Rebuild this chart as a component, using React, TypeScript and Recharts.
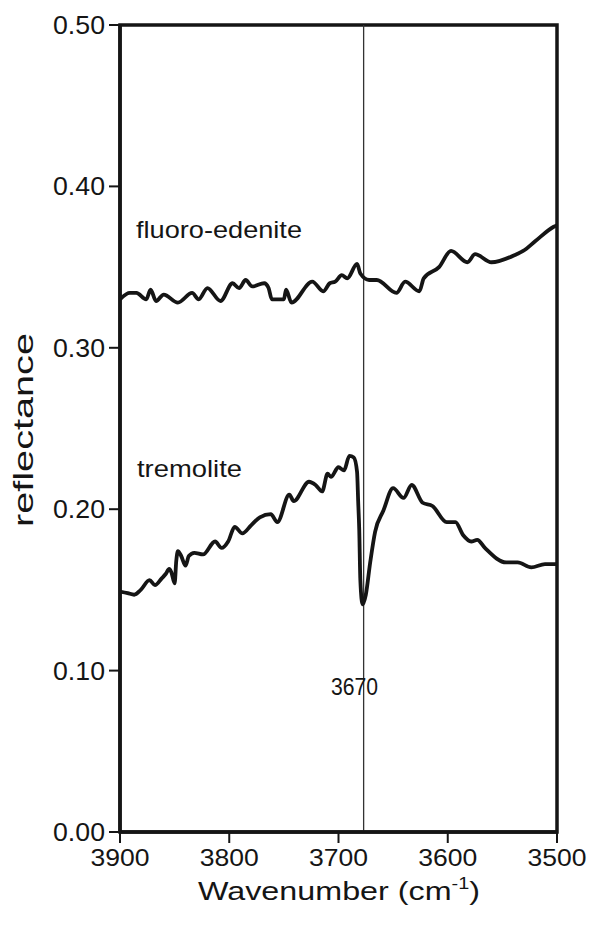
import React from 'react'
import { LineChart, Line, XAxis, YAxis, ReferenceLine, ReferenceArea } from 'recharts'

const FONT = '"Liberation Sans", Arial, Helvetica, sans-serif'
const INK = '#151515'

// wavenumber (cm-1) / reflectance
const fluoroX = [3900, 3891, 3885, 3876, 3872, 3867, 3860, 3847, 3834, 3828, 3820, 3808, 3797, 3791, 3785, 3779, 3768, 3764, 3761, 3750, 3748, 3743, 3724, 3714, 3708, 3703, 3697, 3692, 3683, 3680, 3672, 3665, 3647, 3639, 3626, 3622, 3608, 3597, 3582, 3575, 3560, 3537, 3531, 3520, 3503, 3500]
const fluoroY = [0.330, 0.334, 0.334, 0.330, 0.336, 0.329, 0.333, 0.328, 0.334, 0.330, 0.337, 0.329, 0.340, 0.337, 0.342, 0.338, 0.340, 0.337, 0.330, 0.330, 0.336, 0.328, 0.341, 0.335, 0.340, 0.341, 0.345, 0.343, 0.352, 0.346, 0.342, 0.342, 0.334, 0.341, 0.335, 0.343, 0.350, 0.360, 0.353, 0.358, 0.353, 0.358, 0.360, 0.366, 0.375, 0.376]

const tremoliteX = [3900, 3893, 3887, 3881, 3873, 3868, 3862, 3858, 3855, 3853, 3850, 3848.5, 3847, 3844, 3840, 3837, 3832, 3824, 3813, 3807, 3801, 3795, 3788, 3780, 3772, 3762, 3756, 3745, 3741, 3727, 3721, 3715, 3710, 3707, 3700, 3695, 3690, 3686, 3683, 3682, 3681, 3680, 3678, 3675, 3671, 3666.5, 3659, 3650, 3640.5, 3633, 3623, 3614, 3601, 3593, 3586, 3578.5, 3573, 3566, 3546.5, 3536, 3523.5, 3511, 3500]
const tremoliteY = [0.149, 0.148, 0.147, 0.150, 0.156, 0.153, 0.157, 0.160, 0.163, 0.161, 0.154, 0.168, 0.174, 0.171, 0.165, 0.171, 0.173, 0.172, 0.180, 0.176, 0.180, 0.189, 0.185, 0.190, 0.195, 0.197, 0.192, 0.209, 0.205, 0.217, 0.215, 0.211, 0.222, 0.220, 0.226, 0.224, 0.233, 0.232, 0.223, 0.205, 0.187, 0.156, 0.141, 0.147, 0.167, 0.186, 0.199, 0.213, 0.207, 0.215, 0.204, 0.202, 0.192, 0.192, 0.184, 0.180, 0.181, 0.176, 0.167, 0.167, 0.164, 0.166, 0.166]

const xTicks = [3900, 3800, 3700, 3600, 3500]
const yTicks = [0, 0.1, 0.2, 0.3, 0.4, 0.5]
const peakX = 3677

const fluoroData = fluoroX.map((x, i) => ({ x, y: fluoroY[i] }))
const tremoliteData = tremoliteX.map((x, i) => ({ x, y: tremoliteY[i] }))

// the figure is a bit stretched sideways, so labels get a fixed textLength
const YTick = ({ x, y, payload }: any) => (
  <text x={x - 2} y={y} dy={9} textAnchor="end" fontSize={25} fontFamily={FONT} fill={INK}
    textLength={52} lengthAdjust="spacingAndGlyphs">
    {payload.value.toFixed(2)}
  </text>
)

const XTick = ({ x, y, payload }: any) => (
  <text x={x} y={y} dy={21} textAnchor="middle" fontSize={24} fontFamily={FONT} fill={INK}
    textLength={59} lengthAdjust="spacingAndGlyphs">
    {payload.value}
  </text>
)

export default function App() {
  return (
    <div style={{ position: 'absolute', left: 0, top: 0, width: 589, height: 925, background: '#fff' }}>
      <LineChart width={589} height={925} data={fluoroData}
        margin={{ top: 25, right: 32, bottom: 33, left: 40 }}>
        <XAxis dataKey="x" type="number" domain={[3500, 3900]} reversed ticks={xTicks}
          allowDataOverflow interval={0} height={60} tickSize={11}
          axisLine={{ stroke: INK, strokeWidth: 3.5 }} tickLine={{ stroke: INK, strokeWidth: 2 }}
          tick={<XTick />} />
        <YAxis type="number" domain={[0, 0.5]} ticks={yTicks} interval={0} width={80} tickSize={11}
          axisLine={{ stroke: INK, strokeWidth: 3.5 }} tickLine={{ stroke: INK, strokeWidth: 2 }}
          tick={<YTick />} />
        <ReferenceArea x1={3900} x2={3500} y1={0} y2={0.5} fill="none" fillOpacity={0}
          stroke={INK} strokeWidth={3.5} ifOverflow="visible" />
        <ReferenceLine x={peakX} stroke="#333" strokeWidth={1.3} />
        <Line data={fluoroData} dataKey="y" type="monotone" stroke={INK} strokeWidth={3.8}
          dot={false} activeDot={false} isAnimationActive={false} />
        <Line data={tremoliteData} dataKey="y" type="monotone" stroke={INK} strokeWidth={3.8}
          dot={false} activeDot={false} isAnimationActive={false} />
      </LineChart>
      <svg width={589} height={925} style={{ position: 'absolute', left: 0, top: 0, pointerEvents: 'none' }}
        fontFamily={FONT} fill={INK}>
        <text x={136} y={238} fontSize={24} textLength={166} lengthAdjust="spacingAndGlyphs">fluoro-edenite</text>
        <text x={137} y={477} fontSize={24} textLength={105} lengthAdjust="spacingAndGlyphs">tremolite</text>
        <text x={331} y={695} fontSize={23} textLength={47} lengthAdjust="spacingAndGlyphs">3670</text>
        <text x={198} y={900} fontSize={26} textLength={282} lengthAdjust="spacingAndGlyphs">
          Wavenumber (cm<tspan fontSize={16} dy={-11}>-1</tspan><tspan dy={11}>)</tspan>
        </text>
        <text transform="translate(33 430) rotate(-90)" fontSize={28} textAnchor="middle"
          textLength={194} lengthAdjust="spacingAndGlyphs">reflectance</text>
      </svg>
    </div>
  )
}
